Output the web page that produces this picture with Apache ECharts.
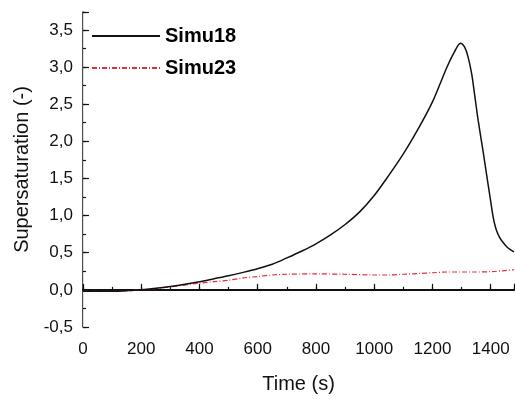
<!DOCTYPE html>
<html>
<head>
<meta charset="utf-8">
<script src="https://cdn.jsdelivr.net/npm/echarts@6/dist/echarts.min.js"></script>
<style>html,body{margin:0;padding:0;background:#fff}#c{width:515px;height:399px}</style>
</head>
<body>
<div id="c"></div>
<script>
// Simu18 (black)
var simu18Time = [0, 50, 100, 150, 200, 250, 300, 350, 400, 450, 500, 550, 600, 650, 700, 750, 800, 850, 900, 950, 1000, 1050, 1100, 1150, 1200, 1250, 1275, 1296, 1310, 1322, 1335, 1345, 1357, 1374, 1391, 1400, 1408, 1414, 1420, 1430, 1440, 1455, 1470, 1480];
var simu18Values = [-0.02, -0.02, -0.02, -0.01, 0.0, 0.02, 0.045, 0.075, 0.11, 0.15, 0.19, 0.235, 0.285, 0.345, 0.43, 0.52, 0.62, 0.74, 0.88, 1.05, 1.27, 1.54, 1.83, 2.16, 2.53, 3.0, 3.2, 3.32, 3.27, 3.14, 2.9, 2.62, 2.28, 1.86, 1.42, 1.19, 0.99, 0.88, 0.80, 0.71, 0.65, 0.58, 0.535, 0.51];
// Simu23 (red dash-dot)
var simu23Time = [0, 100, 200, 300, 400, 450, 500, 550, 600, 650, 700, 800, 900, 1000, 1050, 1100, 1150, 1200, 1250, 1300, 1350, 1400, 1450, 1480];
var simu23Values = [-0.02, -0.02, 0.0, 0.04, 0.09, 0.11, 0.13, 0.16, 0.18, 0.2, 0.21, 0.215, 0.21, 0.2, 0.2, 0.21, 0.22, 0.23, 0.24, 0.24, 0.24, 0.245, 0.26, 0.27];

var X_MIN = 0, X_MAX = 1480, X_MAJOR = 200, X_MINOR = 100;
var Y_MIN = -0.5, Y_MAX = 3.74, Y_MAJOR = 0.5, Y_MINOR = 0.25;

function pairs(t, v) { return t.map(function (x, i) { return [x, v[i]]; }); }

var FONT = '"Liberation Sans", Arial, sans-serif';
var INK = '#111';

function tickAxis(base, interval, len, pos) {
  return {
    type: 'value', min: base[0], max: base[1], interval: interval, position: pos, offset: len,
    axisLine: { show: false },
    axisTick: { show: true, inside: true, length: len, lineStyle: { color: INK, width: 1.2 } },
    axisLabel: { show: false }, splitLine: { show: false }
  };
}

var chart = echarts.init(document.getElementById('c'));
chart.setOption({
  animation: false,
  backgroundColor: '#fff',
  grid: { left: 83, right: 1, top: 12, bottom: 68 },
  legend: {
    left: 86, top: 21, orient: 'vertical', itemWidth: 68, itemHeight: 14, itemGap: 12,
    itemStyle: { opacity: 0, borderWidth: 0 },
    textStyle: { fontFamily: FONT, fontSize: 20, fontWeight: 'bold', color: '#000' },
    data: ['Simu18', 'Simu23']
  },
  xAxis: [
    {
      type: 'value', min: X_MIN, max: X_MAX, interval: X_MAJOR, position: 'bottom',
      name: 'Time (s)', nameLocation: 'middle', nameGap: 47,
      nameTextStyle: { fontFamily: FONT, fontSize: 20, color: INK },
      axisLine: { lineStyle: { color: INK, width: 1.5 } },
      axisTick: { show: false },
      axisLabel: {
        fontFamily: FONT, fontSize: 17, color: INK, margin: 14, showMaxLabel: false,
        formatter: function (v) { return String(v); }
      },
      splitLine: { show: false }
    },
    tickAxis([X_MIN, X_MAX], X_MAJOR, 6, 'bottom'),
    tickAxis([X_MIN, X_MAX], X_MINOR, 3, 'bottom'),
    {
      type: 'value', min: X_MIN, max: X_MAX, position: 'top',
      axisLine: { show: true, lineStyle: { color: INK, width: 2 } },
      axisTick: { show: false }, axisLabel: { show: false }, splitLine: { show: false }
    }
  ],
  yAxis: [
    {
      type: 'value', min: Y_MIN, max: Y_MAX, interval: Y_MAJOR, position: 'left',
      name: 'Supersaturation (-)', nameLocation: 'middle', nameGap: 50, nameRotate: 90,
      nameTextStyle: { fontFamily: FONT, fontSize: 20, color: INK },
      axisLine: { show: true, lineStyle: { color: INK, width: 1.5 } },
      axisTick: { show: false },
      axisLabel: {
        fontFamily: FONT, fontSize: 17, color: INK, margin: 10, showMaxLabel: false,
        formatter: function (v) { return v.toFixed(1).replace('.', ','); }
      },
      splitLine: { show: false }
    },
    tickAxis([Y_MIN, Y_MAX], Y_MAJOR, 6, 'left'),
    tickAxis([Y_MIN, Y_MAX], Y_MINOR, 3, 'left'),
    {
      type: 'value', min: Y_MIN, max: Y_MAX, position: 'right',
      axisLine: { show: true, lineStyle: { color: '#ddd', width: 1 } },
      axisTick: { show: false }, axisLabel: { show: false }, splitLine: { show: false }
    }
  ],
  series: [
    {
      name: 'Simu18', type: 'line', xAxisIndex: 0, yAxisIndex: 0,
      data: pairs(simu18Time, simu18Values), smooth: 0.3, symbol: 'none',
      lineStyle: { color: INK, width: 1.5 }, itemStyle: { color: INK }, z: 3
    },
    {
      name: 'Simu23', type: 'line', xAxisIndex: 0, yAxisIndex: 0,
      data: pairs(simu23Time, simu23Values), smooth: 0.3, symbol: 'none',
      lineStyle: { color: '#e0303a', width: 1.2, type: [5, 2, 1, 2] }, itemStyle: { color: '#e0303a' }, z: 2
    }
  ]
});
</script>
</body>
</html>
